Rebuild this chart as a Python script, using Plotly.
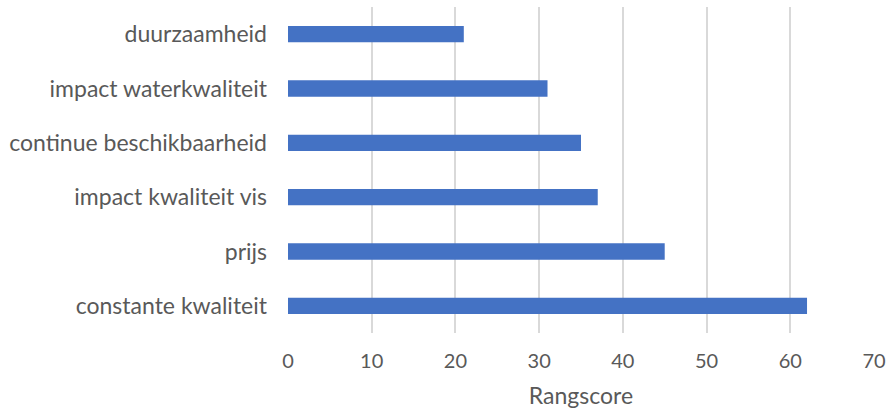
import plotly.graph_objects as go

categories = ["constante kwaliteit", "prijs", "impact kwaliteit vis",
              "continue beschikbaarheid", "impact waterkwaliteit", "duurzaamheid"]
values = [62, 45, 37, 35, 31, 21]
x_ticks = [0, 10, 20, 30, 40, 50, 60, 70]
x_title = "Rangscore"

FONT = "Lato"
GREY = "#595959"

fig = go.Figure(go.Bar(
    y=categories, x=values, orientation="h",
    marker=dict(color="#4472C4", line=dict(width=0)),
    width=0.3,
))

fig.update_layout(
    width=888, height=409,
    margin=dict(l=288, r=14, t=7, b=76, autoexpand=False),
    paper_bgcolor="white", plot_bgcolor="white",
    showlegend=False,
    font=dict(family=FONT, color=GREY),
    xaxis=dict(
        range=[0, 70], tickvals=x_ticks, ticktext=[str(t) for t in x_ticks],
        showgrid=True, gridcolor="#D9D9D9", gridwidth=1.5,
        zeroline=False, showline=False, automargin=False,
        tickfont=dict(size=20, family=FONT, color=GREY),
        ticks="outside", ticklen=10, tickcolor="rgba(0,0,0,0)",
        title=dict(text=x_title, font=dict(size=23, family=FONT, color=GREY), standoff=22),
    ),
    yaxis=dict(
        showgrid=False, zeroline=False, showline=False, automargin=False,
        tickfont=dict(size=23, family=FONT, color=GREY),
        ticklabelstandoff=20,
        range=[-0.5, 5.5],
    ),
)

fig.write_html("out.html")
